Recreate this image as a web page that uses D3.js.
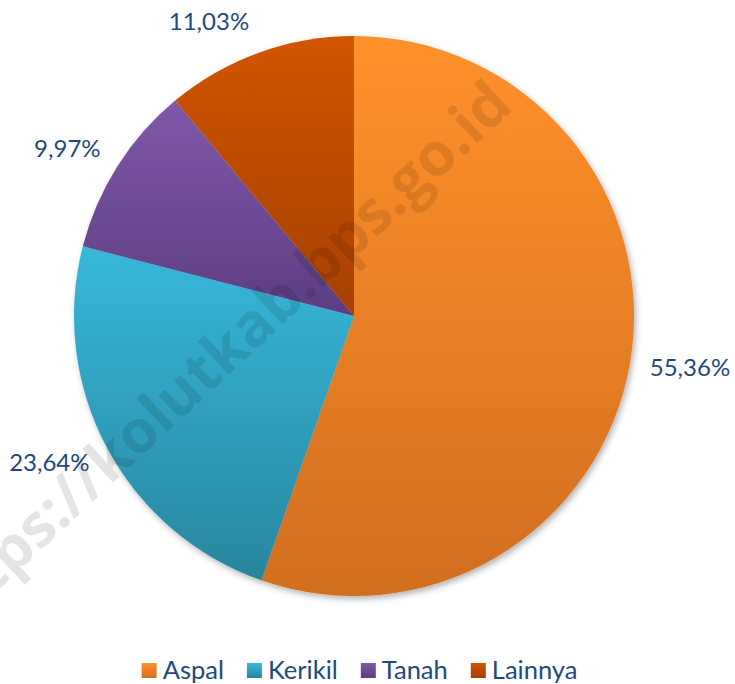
<!DOCTYPE html>
<html><head><meta charset="utf-8">
<script src="https://cdn.jsdelivr.net/npm/d3@7/dist/d3.min.js"></script>
<style>body{margin:0;background:#fff}svg{display:block}</style>
</head><body>
<script>
const categories = ["Aspal", "Kerikil", "Tanah", "Lainnya"];
const values = [55.36, 23.64, 9.97, 11.03];
const labels = ["55,36%", "23,64%", "9,97%", "11,03%"];
const colorTop = ["#FF912B", "#37B8DC", "#8059A9", "#D15500"];
const colorBottom = ["#D26E1F", "#28869E", "#5C3D82", "#A54000"];
const watermark = "https://kolutkab.bps.go.id";

const W = 735, H = 684, cx = 354, cy = 316, R = 280;
const svg = d3.select("body").append("svg").attr("width", W).attr("height", H);
const defs = svg.append("defs");
categories.forEach((c, i) => {
  const g = defs.append("linearGradient").attr("id", "g" + i).attr("x1", 0).attr("y1", 0).attr("x2", 0).attr("y2", 1);
  g.append("stop").attr("offset", "0%").attr("stop-color", colorTop[i]);
  g.append("stop").attr("offset", "100%").attr("stop-color", colorBottom[i]);
});
const f = defs.append("filter").attr("id", "sh").attr("x", "-10%").attr("y", "-10%").attr("width", "120%").attr("height", "120%");
f.append("feDropShadow").attr("dx", 2).attr("dy", 3).attr("stdDeviation", 3).attr("flood-color", "#000").attr("flood-opacity", 0.3);

const data = categories.map((c, i) => ({cat: c, value: values[i], label: labels[i], i}));
const pie = d3.pie().sort(null).value(d => d.value);
const arc = d3.arc().innerRadius(0).outerRadius(R);
const arcs = pie(data);

const g = svg.append("g").attr("transform", `translate(${cx},${cy})`);
const pg = g.append("g").attr("filter", "url(#sh)");
pg.selectAll("path").data(arcs).join("path")
  .attr("d", arc).attr("fill", d => `url(#g${d.data.i})`);

// labels
const lg = g.append("g");
arcs.forEach(a => {
  const m = (a.startAngle + a.endAngle) / 2;
  const dx = Math.sin(m), dy = -Math.cos(m);
  const t = lg.append("text").text(a.data.label)
    .attr("font-family", "Lato, 'Open Sans', sans-serif").attr("font-size", 24)
    .attr("fill", "#1F497D").attr("text-anchor", "middle").attr("dominant-baseline", "central");
  const w = t.node().getComputedTextLength();
  const x = 300 * dx + Math.sign(dx) * w / 2 - (dx < 0 && dy < -0.9 ? 3 : 0);
  const y = 300 * dy + dy * 12 - 2;
  t.attr("x", x).attr("y", y);
});

// watermark
svg.append("text").text(watermark)
  .attr("font-family", "'Open Sans', 'DejaVu Sans', sans-serif").attr("font-weight", "bold")
  .attr("font-size", 60).attr("fill", "#000").attr("fill-opacity", 0.1)
  .attr("text-anchor", "end")
  .attr("transform", "translate(515,108) rotate(-43)");

// legend
const leg = svg.append("g");
let xPos = 0;
const gap = 23;
categories.forEach((c, i) => {
  const it = leg.append("g");
  it.append("rect").attr("x", 0).attr("y", 663).attr("width", 15).attr("height", 15).attr("fill", `url(#g${i})`);
  const t = it.append("text").text(c).attr("x", 21).attr("y", 679)
    .attr("font-family", "Lato, 'Open Sans', sans-serif").attr("font-size", 25.5).attr("fill", "#1F497D");
  const w = 21 + t.node().getComputedTextLength();
  it.attr("transform", `translate(${xPos},0)`);
  xPos += w + gap;
});
const total = xPos - gap;
leg.attr("transform", `translate(${(W - total) / 2 - 8},0)`);
</script>
</body></html>
